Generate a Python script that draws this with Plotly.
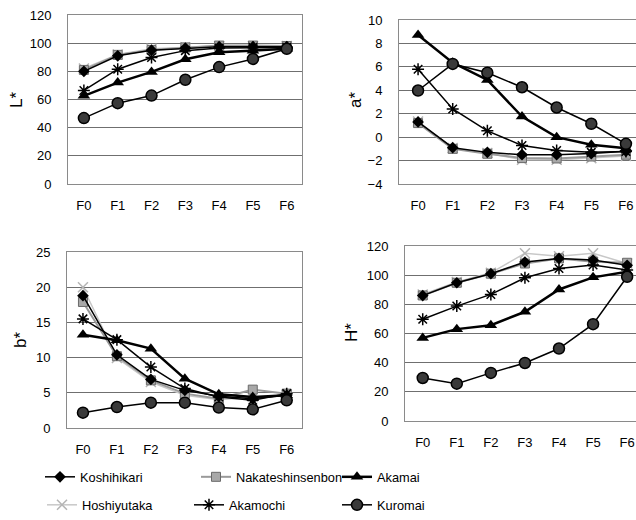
import plotly.graph_objects as go

W, H = 636, 520

stages = ["F0", "F1", "F2", "F3", "F4", "F5", "F6"]
varieties = ["Koshihikari", "Nakateshinsenbon", "Akamai", "Hoshiyutaka", "Akamochi", "Kuromai"]

L_vals = {
    "Koshihikari":      [80, 91, 95, 96.5, 97.5, 97.5, 97.5],
    "Nakateshinsenbon": [81, 91.7, 95.2, 97, 98.3, 98.3, 98],
    "Akamai":           [62.6, 72, 79.6, 88.6, 93.5, 94.7, 96],
    "Hoshiyutaka":      [82, 92, 96, 97, 98, 98, 98],
    "Akamochi":         [66.4, 81.5, 89.8, 94.7, 96.6, 97, 97],
    "Kuromai":          [46.8, 57.4, 62.8, 74, 83, 88.8, 96],
}
a_vals = {
    "Koshihikari":      [1.3, -0.9, -1.3, -1.5, -1.5, -1.4, -1.2],
    "Nakateshinsenbon": [1.2, -1.0, -1.42, -1.79, -1.82, -1.65, -1.5],
    "Akamai":           [8.72, 6.36, 4.88, 1.76, 0.0, -0.65, -0.94],
    "Hoshiyutaka":      [1.33, -0.94, -1.36, -1.93, -1.93, -1.79, -1.6],
    "Akamochi":         [5.8, 2.41, 0.54, -0.71, -1.14, -1.3, -1.22],
    "Kuromai":          [3.98, 6.25, 5.5, 4.26, 2.53, 1.14, -0.57],
}
b_vals = {
    "Koshihikari":      [18.8, 10.4, 6.9, 5.35, 4.5, 4.17, 4.64],
    "Nakateshinsenbon": [17.9, 10.2, 6.77, 4.88, 4.17, 5.45, 4.88],
    "Akamai":           [13.26, 12.45, 11.27, 7.0, 4.78, 4.4, 4.64],
    "Hoshiyutaka":      [20.0, 9.94, 6.53, 4.64, 4.0, 4.4, 4.64],
    "Akamochi":         [15.5, 12.55, 8.66, 5.6, 4.4, 3.93, 4.88],
    "Kuromai":          [2.18, 2.98, 3.6, 3.6, 2.9, 2.65, 3.93],
}
H_vals = {
    "Koshihikari":      [86, 94.8, 101, 109, 111.5, 110.4, 106.8],
    "Nakateshinsenbon": [86.1, 94.8, 101, 108, 111.5, 109.2, 108.5],
    "Akamai":           [57, 63, 65.7, 74.9, 90.2, 98.5, 102.4],
    "Hoshiyutaka":      [86.8, 95.3, 101.6, 115, 113, 115, 108],
    "Akamochi":         [69.8, 78.8, 86.8, 98.2, 104.6, 107, 103.5],
    "Kuromai":          [29.5, 25.6, 33, 39.8, 49.7, 66.4, 98.9],
}

styles = {
    "Koshihikari": dict(line=dict(color="black", width=1.5),
                        marker=dict(symbol="diamond", size=9, color="black")),
    "Nakateshinsenbon": dict(line=dict(color="#9a9a9a", width=2),
                             marker=dict(symbol="square", size=9, color="#a8a8a8",
                                         line=dict(color="#6a6a6a", width=1))),
    "Akamai": dict(line=dict(color="black", width=2.5),
                   marker=dict(symbol="triangle-up", size=11, color="black")),
    "Hoshiyutaka": dict(line=dict(color="#c8c8c8", width=1.5),
                        marker=dict(symbol="x-thin-open", size=10, color="#b5b5b5",
                                    line=dict(color="#b5b5b5", width=1.5))),
    "Akamochi": dict(line=dict(color="black", width=1.5),
                     marker=dict(symbol="asterisk-open", size=10, color="black",
                                 line=dict(color="black", width=1.5))),
    "Kuromai": dict(line=dict(color="black", width=1.5),
                    marker=dict(symbol="circle", size=11, color="#3a3a3a",
                                line=dict(color="black", width=1.5))),
}

draw_order = ["Hoshiyutaka", "Nakateshinsenbon", "Koshihikari", "Akamochi", "Akamai", "Kuromai"]

panels = [
    # (data, axis suffix, title, y range, dtick, box px: x0, x1, y0, y1, x range, mirror y, title pos)
    (L_vals, "", "L*", [0, 120], 20, (68, 302, 15, 184), [-0.47, 6.45], True, (17, 100)),
    (a_vals, "2", "a*", [-4, 10], 2, (399, 636, 20, 184), [-0.55, 6.29], False, (356, 100)),
    (b_vals, "3", "b*", [0, 25], 5, (67, 302, 252, 428), [-0.47, 6.45], True, (20, 340)),
    (H_vals, "4", "H*", [0, 120], 20, (405, 636, 246, 421), [-0.52, 6.26], False, (351, 333)),
]

FONT = "Liberation Sans, Arial, sans-serif"
fig = go.Figure()
legend_pos = {
    "Koshihikari": (82, 477), "Nakateshinsenbon": (238, 477), "Akamai": (379, 477),
    "Hoshiyutaka": (84, 505), "Akamochi": (231, 505), "Kuromai": (379, 505),
}
legend_ids = {v: ("legend" if i == 0 else f"legend{i+1}") for i, v in enumerate(varieties)}

annotations = []
layout = {}
for pi, (data, sfx, title, yr, dt, box, xr, mirror_y, tpos) in enumerate(panels):
    x0, x1, y0, y1 = box
    for v in draw_order:
        st = styles[v]
        fig.add_trace(go.Scatter(
            x=stages, y=data[v], name=v, mode="lines+markers",
            line=st["line"], marker=st["marker"],
            xaxis="x" + sfx, yaxis="y" + sfx,
            showlegend=(pi == 0), legend=legend_ids[v],
        ))
    layout["xaxis" + sfx] = dict(
        domain=[x0 / W, min(x1 / W, 1.0)], anchor="y" + sfx, range=xr,
        showgrid=False, showline=True, linecolor="#8a8a8a", linewidth=1, mirror=True,
        ticks="", ticklabelstandoff=9, automargin=False, ticklabeloverflow="allow",
        tickfont=dict(family=FONT, size=13, color="black"),
        categoryorder="array", categoryarray=stages,
    )
    layout["yaxis" + sfx] = dict(
        domain=[1 - y1 / H, 1 - y0 / H], anchor="x" + sfx, range=yr, dtick=dt,
        showgrid=True, gridcolor="#6f6f6f", gridwidth=1, zeroline=False,
        showline=True, linecolor="#8a8a8a", linewidth=1, mirror=mirror_y,
        ticks="", ticklabelstandoff=13, automargin=False,
        tickfont=dict(family=FONT, size=13, color="black"),
    )
    annotations.append(dict(
        text=title, x=tpos[0] / W, y=1 - tpos[1] / H, xref="paper", yref="paper",
        showarrow=False, textangle=-90, xanchor="center", yanchor="middle",
        font=dict(family=FONT, size=17, color="black"),
    ))

# legend text start positions (px); plotly puts text ~42px right of the legend's left edge
for v in varieties:
    px, py = legend_pos[v]
    layout[legend_ids[v]] = dict(
        x=(px - 42) / W, y=1 - py / H, xanchor="left", yanchor="middle",
        xref="paper", yref="paper", bgcolor="rgba(0,0,0,0)",
        font=dict(family=FONT, size=12.8, color="black"),
        itemwidth=30,
    )

fig.update_layout(
    template="none",
    width=W, height=H, margin=dict(l=0, r=0, t=0, b=0, autoexpand=False),
    paper_bgcolor="white", plot_bgcolor="white",
    annotations=annotations, **layout,
)

fig.write_html("out.html", config={"displayModeBar": False},
               post_script="document.body.style.margin='0px';document.body.style.overflow='hidden';")
